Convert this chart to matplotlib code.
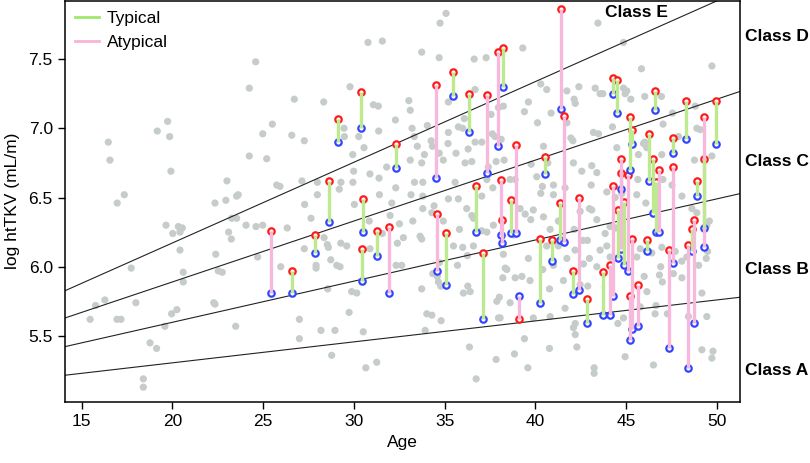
import numpy as np
import matplotlib.pyplot as plt
from matplotlib.lines import Line2D

plt.rcParams['font.family'] = ['Liberation Sans', 'DejaVu Sans']

# background cohort (gray dots): age, log htTKV
gray_age = [
    16.47, 16.56, 19.17, 19.74, 19.85, 19.92, 24.24, 24.24, 23.01, 17.35, 16.96, 22.35, 22.95, 23.54, 23.63,
    19.65, 20.02, 20.33, 20.55, 20.42, 20.42, 20.60, 20.60, 23.27, 23.54, 23.10, 23.25, 24.06, 22.39, 22.53,
    22.75, 17.73, 17.99, 16.28, 15.77, 15.47, 16.95, 17.17, 19.96, 20.25, 19.59, 18.77, 19.13, 18.40, 18.40,
    22.28, 22.35, 23.49,
    35.08, 34.75, 30.78, 31.57, 33.74, 34.70, 36.63, 37.29, 24.59, 29.79, 26.72, 28.34, 31.08, 31.35, 33.03,
    33.11, 32.29, 36.68, 35.21, 38.24, 37.97, 37.56, 36.09, 35.76, 36.00, 25.51, 24.98, 26.58, 27.27, 29.46,
    29.48, 30.27, 30.56, 31.37, 33.21, 33.33, 34.05, 34.26, 35.21, 35.19, 34.33, 33.50, 33.89, 34.71, 35.63,
    36.30, 36.68, 37.05, 37.63, 37.78, 38.12, 25.20, 29.94, 34.93, 33.11,
    25.75, 25.93, 27.14, 27.29, 27.64, 27.99, 27.99, 29.20, 29.29, 29.95, 24.61, 24.98, 26.33, 24.70, 25.97,
    27.27, 28.36, 28.54, 28.60, 29.28, 29.61, 28.73, 29.06, 29.24, 27.92, 27.92, 28.56, 29.88, 30.16, 27.00,
    28.19, 28.96, 30.52, 29.74, 27.00, 28.78, 30.66, 31.26, 29.99, 30.89, 31.39, 31.81, 32.31, 32.09, 31.41,
    30.03, 30.85, 32.00, 32.51, 31.57, 32.73, 32.40, 30.89, 32.33, 32.64, 33.25, 33.15, 33.34, 33.80, 33.74,
    33.80, 33.80, 34.30, 33.65, 33.74, 34.42, 34.93, 35.21, 35.58, 35.76, 36.22, 36.50, 36.59, 36.13, 36.50,
    37.33, 37.41, 37.84, 37.66, 37.05, 37.33, 37.05, 37.69, 35.82, 35.49, 36.00, 36.59, 34.35, 34.60, 34.71,
    35.71, 36.26, 38.24, 38.43, 38.21, 38.02, 36.41, 36.28, 36.04, 33.74, 34.66, 34.79, 34.02, 34.30, 34.81,
    33.93, 36.37, 37.84, 36.74, 37.97, 37.88,
    43.45, 44.86, 45.85, 49.73, 39.31, 40.30, 40.63, 41.74, 42.40, 42.14, 42.20, 43.30, 43.57, 44.86, 45.04,
    44.95, 45.26, 46.03, 46.95, 43.72, 39.62, 39.40, 40.87, 40.12, 41.74, 41.96, 42.07, 43.20, 43.48, 44.25,
    44.49, 46.03, 46.14, 47.04, 47.56, 47.89, 48.90, 48.77, 48.81, 38.28, 38.61, 38.89, 40.08, 41.00, 41.64,
    43.08, 44.77, 45.68, 45.96, 46.97, 47.03, 45.65, 40.45, 39.77, 40.69, 42.10, 42.56, 43.11, 43.39,
    40.39, 41.00, 40.30, 42.47, 42.98, 43.11, 43.94, 44.40, 45.59, 46.09, 47.53, 48.08, 48.63, 48.90, 49.59,
    49.45, 49.42, 49.49, 48.08, 49.00, 49.18, 49.79, 49.73, 46.51, 46.60, 47.28, 46.65, 48.44, 49.45, 44.95,
    43.24, 43.24, 42.29, 42.20, 40.78, 39.59, 38.85, 39.40, 40.82, 42.10, 42.20, 39.89, 38.06, 44.55, 44.86,
    45.78, 46.00, 46.15, 47.00, 42.89, 42.47, 41.55, 40.78, 40.41, 41.00, 39.62, 39.26, 39.71, 38.89, 38.34,
    38.61, 41.64, 42.65, 42.98, 43.39, 43.57, 43.94, 44.12, 45.59, 45.78, 46.97, 47.71, 48.35, 48.07, 46.91,
    46.84, 47.61, 46.42, 38.80, 39.16, 39.44, 39.75, 39.89, 40.45, 40.82, 41.27, 42.62, 43.39, 44.12, 44.42,
    43.85, 42.14, 42.87, 41.27, 41.74, 42.19, 40.63, 49.09, 49.73, 49.18,
]
gray_val = [
    6.90, 6.77, 6.98, 7.05, 6.94, 6.69, 7.29, 6.80, 6.62, 6.52, 6.46, 6.46, 6.48, 6.51, 6.52,
    6.30, 6.24, 6.29, 6.28, 6.25, 6.12, 5.96, 5.89, 6.35, 6.35, 6.25, 6.20, 6.30, 6.09, 5.97,
    5.96, 5.99, 5.74, 5.76, 5.72, 5.62, 5.62, 5.62, 5.66, 5.69, 5.57, 5.45, 5.41, 5.19, 5.13,
    5.74, 5.73, 5.57,
    7.83, 7.76, 7.62, 7.63, 7.55, 7.51, 7.50, 7.51, 7.48, 7.30, 7.21, 7.19, 7.17, 7.16, 7.20,
    7.13, 7.06, 7.28, 7.19, 7.16, 7.15, 7.10, 7.07, 7.01, 7.00, 7.03, 6.96, 6.95, 6.91, 7.00,
    6.94, 6.94, 6.86, 6.98, 7.00, 6.94, 7.02, 6.91, 6.97, 6.89, 6.87, 6.87, 6.81, 6.82, 6.82,
    6.85, 6.90, 6.90, 6.96, 6.94, 6.92, 6.78, 6.81, 6.77, 6.77,
    6.59, 6.58, 6.62, 6.45, 6.35, 6.61, 6.52, 6.56, 6.61, 6.61, 6.29, 6.30, 6.28, 6.07, 6.00,
    6.13, 6.21, 6.16, 6.14, 6.17, 6.15, 6.05, 6.01, 6.00, 6.01, 5.99, 5.84, 5.82, 5.81, 5.62,
    5.54, 5.54, 5.53, 5.67, 5.48, 5.36, 5.27, 5.31, 6.69, 6.67, 6.64, 6.72, 6.57, 6.46, 6.52,
    6.45, 6.33, 6.37, 6.31, 6.24, 6.21, 6.17, 6.13, 6.01, 6.01, 6.33, 6.52, 6.61, 6.61, 6.75,
    6.51, 6.42, 6.39, 6.22, 6.20, 6.44, 6.33, 6.49, 6.61, 6.49, 6.42, 6.37, 6.35, 6.75, 6.76,
    6.63, 6.72, 6.76, 6.57, 6.51, 6.25, 6.26, 6.30, 6.27, 6.15, 6.14, 6.15, 5.95, 5.93, 6.03,
    6.01, 6.08, 6.09, 5.98, 5.92, 5.78, 5.82, 5.86, 5.81, 5.84, 5.89, 5.86, 5.66, 5.65, 5.61,
    5.54, 5.42, 5.33, 5.19, 5.63, 5.75,
    7.76, 7.62, 7.43, 7.45, 7.58, 7.32, 7.28, 7.27, 7.30, 7.21, 7.18, 7.29, 7.25, 7.29, 7.27,
    7.25, 7.21, 7.23, 7.23, 7.25, 7.19, 7.12, 7.11, 7.04, 7.04, 6.93, 6.91, 6.97, 6.96, 7.01,
    6.86, 6.90, 6.86, 7.03, 7.11, 6.94, 7.00, 6.77, 7.16, 6.77, 6.63, 6.63, 6.65, 6.59, 6.57,
    6.59, 6.53, 6.81, 6.89, 6.81, 6.63, 6.63, 6.87, 6.74, 6.75, 6.75, 6.69, 6.73, 6.68,
    6.58, 6.52, 6.53, 6.40, 6.42, 6.41, 6.54, 6.50, 6.52, 6.46, 6.59, 6.51, 6.42, 6.39, 6.33,
    6.30, 6.06, 6.11, 5.92, 6.01, 5.40, 5.39, 5.34, 5.29, 5.66, 5.66, 5.72, 5.64, 5.64, 5.35,
    5.27, 5.23, 5.42, 5.51, 5.41, 5.27, 5.37, 5.48, 5.64, 5.56, 5.59, 5.63, 5.63, 5.59, 5.63,
    5.71, 5.93, 5.82, 5.89, 5.86, 5.87, 5.90, 5.84, 5.98, 6.01, 6.06, 5.93, 5.90, 5.92, 5.99,
    5.74, 5.70, 6.02, 6.06, 6.00, 6.12, 6.15, 6.07, 6.07, 6.13, 6.14, 6.11, 6.07, 6.04, 6.00,
    5.94, 5.95, 6.10, 6.23, 6.42, 6.38, 6.34, 6.41, 6.36, 6.27, 6.33, 6.19, 6.34, 6.29, 6.28,
    6.24, 6.27, 6.19, 6.15, 6.06, 6.12, 6.15, 6.99, 6.80, 5.81,
]

# paired measurements: age, red value, blue value, typical (1) / atypical (0)
pair_age = [25.44, 26.61, 27.86, 28.63, 29.11, 30.41, 30.51, 30.47, 31.26, 31.94,
            32.31, 34.55, 34.60, 35.08, 35.45, 36.37, 36.75, 37.14, 37.33, 37.97,
            38.21, 38.10, 38.15, 38.65, 38.92, 39.09, 40.28, 40.56, 40.94, 41.37,
            41.42, 41.60, 42.05, 42.38, 42.87, 43.74, 44.12, 44.27, 44.27, 44.49,
            44.57, 44.71, 44.71, 44.90, 45.13, 45.23, 45.35, 45.23, 45.35, 45.65,
            46.18, 46.28, 46.48, 46.64, 46.81, 46.60, 47.56, 47.56, 47.34, 48.30,
            48.44, 48.61, 48.72, 48.90, 49.31, 49.27, 49.93]
red_val = [6.26, 5.97, 6.23, 6.62, 7.07, 7.26, 6.49, 6.13, 6.26, 6.29,
           6.89, 7.31, 6.38, 6.24, 7.41, 7.25, 6.58, 6.10, 7.24, 7.55,
           7.58, 6.63, 6.34, 6.48, 6.88, 5.62, 6.20, 6.79, 6.19, 6.46,
           7.86, 7.09, 5.97, 6.50, 5.77, 5.96, 6.01, 7.36, 6.58, 7.35,
           6.41, 6.78, 6.68, 6.47, 6.66, 7.08, 6.99, 5.79, 6.20, 5.87,
           6.19, 6.96, 6.78, 6.61, 6.70, 7.27, 6.93, 6.72, 6.12, 7.20,
           6.16, 6.27, 6.34, 6.62, 7.08, 6.78, 7.20]
blue_val = [5.81, 5.81, 6.10, 6.32, 6.90, 7.00, 6.25, 5.90, 6.08, 5.81,
            6.71, 6.64, 5.97, 5.87, 7.23, 6.97, 6.25, 5.62, 6.68, 6.87,
            7.30, 6.23, 6.17, 6.24, 6.24, 5.79, 5.74, 6.67, 6.04, 6.19,
            7.14, 6.18, 5.80, 5.83, 5.59, 5.65, 5.65, 7.25, 5.79, 7.11,
            6.06, 6.13, 6.56, 6.01, 5.97, 6.70, 6.89, 5.47, 5.55, 5.57,
            6.11, 6.62, 6.39, 6.25, 6.25, 7.13, 6.82, 6.03, 5.41, 6.92,
            5.27, 6.11, 5.59, 6.51, 6.14, 6.28, 6.89]
typical = [0, 1, 1, 1, 1, 1, 1, 1, 1, 0,
           1, 0, 0, 1, 1, 1, 1, 1, 0, 0,
           1, 0, 0, 1, 0, 0, 1, 1, 1, 1,
           0, 0, 1, 0, 1, 1, 0, 1, 0, 1,
           1, 0, 0, 1, 0, 1, 1, 0, 0, 0,
           1, 1, 1, 1, 0, 1, 1, 0, 0, 1,
           0, 1, 0, 1, 0, 1, 1]

# Mayo class boundaries, read at age 15 and age 50
bound_at_15 = [5.23, 5.45, 5.67, 5.88]
bound_at_50 = [5.76, 6.49, 7.21, 7.92]

class_names = ["Class A", "Class B", "Class C", "Class D"]
class_label_y = [5.25, 5.98, 6.76, 7.66]

GREEN = "#bdea8f"
PINK = "#f6b9dc"

fig = plt.figure(figsize=(8.1, 4.63), dpi=100)
ax = fig.add_axes([0.0806, 0.1324, 0.833, 0.8656])

ax.scatter(gray_age, gray_val, s=27, color="#c6ccc9", edgecolors="none", zorder=1)

for y15, y50 in zip(bound_at_15, bound_at_50):
    ax.axline((15, y15), (50, y50), color="#222222", lw=0.8, zorder=2)

for a, r, b, t in zip(pair_age, red_val, blue_val, typical):
    col = GREEN if t else PINK
    ax.plot([a, a], [r, b], color=col, lw=2.4, solid_capstyle="butt", zorder=4)
    ax.plot(a, r, marker="o", ms=4.6, mfc="white", mec="#ff1a1a", mew=1.6, zorder=3)
    ax.plot(a, b, marker="o", ms=4.6, mfc="white", mec="#3344ff", mew=1.6, zorder=3)

ax.set_xlim(14.1, 51.28)
ax.set_ylim(5.025, 7.92)
ax.set_xticks([15, 20, 25, 30, 35, 40, 45, 50])
ax.set_yticks([5.5, 6.0, 6.5, 7.0, 7.5])
ax.set_yticklabels(["5.5", "6.0", "6.5", "7.0", "7.5"])
ax.tick_params(direction="out", length=5, width=1, labelsize=12.5, colors="black", pad=4)
for sp in ax.spines.values():
    sp.set_linewidth(1.1)
ax.set_xlabel("Age", fontsize=12.5, labelpad=4)
ax.set_ylabel("log htTKV (mL/m)", fontsize=12.5, labelpad=6)

ax.text(45.6, 7.84, "Class E", fontsize=12.5, fontweight="bold", ha="center", va="center")
for name, yv in zip(class_names, class_label_y):
    ax.text(1.008, yv, name, transform=ax.get_yaxis_transform(), fontsize=12.5,
            fontweight="bold", ha="left", va="center", clip_on=False)

handles = [Line2D([], [], color="#9fe870", lw=2), Line2D([], [], color="#f7b3d8", lw=2)]
ax.legend(handles, ["Typical", "Atypical"], loc="upper left", frameon=False,
          fontsize=12.5, handlelength=1.4, handletextpad=0.45, borderaxespad=0.35,
          labelspacing=0.55, borderpad=0.2)

fig.savefig("out.png", dpi=100)
